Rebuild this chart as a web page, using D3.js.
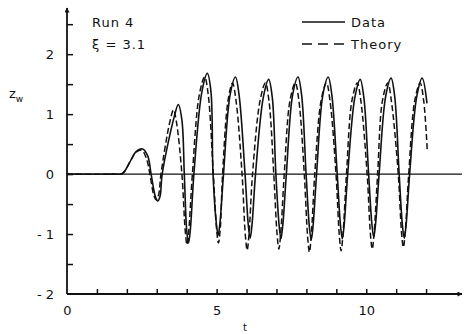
<!DOCTYPE html>
<html>
<head>
<meta charset="utf-8">
<script src="https://cdn.jsdelivr.net/npm/d3@7"></script>
<style>
	body { margin: 0; background: #fff; }
	svg text { font-family: "DejaVu Sans", sans-serif; fill: #111; }
</style>
</head>
<body>
<svg width="466" height="334"></svg>
<script>

const dataT = [0, 1.5, 1.85, 2.1, 2.3, 2.53, 2.7, 2.81, 2.95, 3.03, 3.11, 3.18,
	3.58, 3.72, 3.84, 3.92, 4.0, 4.06, 4.12, 4.24,
	4.51, 4.69, 4.81, 4.88, 4.99, 5.05, 5.11, 5.23,
	5.45, 5.63, 5.75, 5.95, 6.06, 6.12, 6.18, 6.3,
	6.56, 6.74, 6.86, 6.98, 7.09, 7.15, 7.21, 7.33,
	7.54, 7.72, 7.84, 7.99, 8.1, 8.16, 8.22, 8.34,
	8.55, 8.73, 8.85, 9.03, 9.14, 9.2, 9.26, 9.38,
	9.62, 9.8, 9.92, 10.08, 10.19, 10.25, 10.31, 10.43,
	10.65, 10.83, 10.95, 11.1, 11.21, 11.27, 11.33, 11.45,
	11.69, 11.87, 12.03];
const dataZ = [0, 0, 0.01, 0.2, 0.37, 0.42, 0.3, 0, -0.37, -0.45, -0.37, 0,
	0.95, 1.16, 0.9, 0, -0.94, -1.15, -0.94, 0,
	1.38, 1.68, 1.38, 0, -0.82, -1.02, -0.82, 0,
	1.32, 1.62, 1.32, 0, -0.86, -1.07, -0.86, 0,
	1.28, 1.58, 1.28, 0, -0.86, -1.08, -0.86, 0,
	1.32, 1.62, 1.32, 0, -0.88, -1.1, -0.88, 0,
	1.32, 1.62, 1.32, 0, -0.86, -1.08, -0.86, 0,
	1.28, 1.58, 1.28, 0, -0.84, -1.05, -0.84, 0,
	1.3, 1.6, 1.3, 0, -0.86, -1.07, -0.86, 0,
	1.3, 1.6, 1.18];

// theory (dashed line)
const theoryT = [0, 1.5, 1.85, 2.1, 2.3, 2.5, 2.66, 2.77, 2.9, 2.98, 3.06, 3.14,
	3.44, 3.56, 3.66, 3.84, 3.95, 4.01, 4.07, 4.19,
	4.42, 4.6, 4.72, 4.89, 5.0, 5.06, 5.12, 5.2,
	5.38, 5.53, 5.65, 5.85, 5.96, 6.02, 6.08, 6.2,
	6.45, 6.63, 6.75, 6.91, 7.02, 7.08, 7.14, 7.26,
	7.45, 7.63, 7.75, 7.93, 8.04, 8.1, 8.16, 8.28,
	8.49, 8.67, 8.79, 8.99, 9.1, 9.16, 9.22, 9.34,
	9.52, 9.7, 9.82, 10.03, 10.14, 10.2, 10.26, 10.38,
	10.54, 10.72, 10.84, 11.07, 11.18, 11.24, 11.3, 11.42,
	11.62, 11.8, 11.92, 12.04];
const theoryZ = [0, 0, 0.01, 0.2, 0.36, 0.4, 0.25, 0, -0.35, -0.43, -0.35, 0,
	0.88, 1.07, 0.86, 0, -0.94, -1.18, -0.94, 0,
	1.32, 1.62, 1.32, 0, -0.92, -1.15, -0.92, 0,
	1.22, 1.52, 1.22, 0, -1.02, -1.27, -1.02, 0,
	1.22, 1.52, 1.22, 0, -1.0, -1.25, -1.0, 0,
	1.22, 1.52, 1.22, 0, -1.04, -1.3, -1.04, 0,
	1.22, 1.52, 1.22, 0, -1.02, -1.28, -1.02, 0,
	1.22, 1.52, 1.22, 0, -1.0, -1.25, -1.0, 0,
	1.22, 1.52, 1.22, 0, -0.98, -1.22, -0.98, 0,
	1.22, 1.52, 1.22, 0.38];

const xTicks = [1, 2, 3, 4, 5, 6, 7, 8, 9, 10, 11, 12];
const xLabels = [0, 5, 10];
const yTicks = [-1.5, -1, -0.5, 0, 0.5, 1, 1.5, 2, 2.5];
const yLabels = [-2, -1, 0, 1, 2];

const svg = d3.select('svg');

const x = d3.scaleLinear().domain([0, 13.2]).range([67, 462]);
const y = d3.scaleLinear().domain([-2, 2.77]).range([294, 8]);

svg.append('defs').append('marker')
	.attr('id', 'arrow')
	.attr('viewBox', '0 0 10 10')
	.attr('refX', 9).attr('refY', 5)
	.attr('markerWidth', 7).attr('markerHeight', 5)
	.attr('markerUnits', 'userSpaceOnUse')
	.attr('orient', 'auto')
	.append('path')
	.attr('d', 'M0,0 L10,5 L0,10 z')
	.attr('fill', '#111');

// axis lines with arrows
svg.append('line')
	.attr('x1', x(0)).attr('y1', y(-2)).attr('x2', x(13.2)).attr('y2', y(-2))
	.attr('stroke', '#111').attr('stroke-width', 1.8)
	.attr('marker-end', 'url(#arrow)');
svg.append('line')
	.attr('x1', x(0)).attr('y1', y(-2)).attr('x2', x(0)).attr('y2', y(2.77))
	.attr('stroke', '#111').attr('stroke-width', 1.8)
	.attr('marker-end', 'url(#arrow)');

// tick marks pointing inward
const xTickAxis = svg.append('g')
	.attr('transform', 'translate(0,' + y(-2) + ')')
	.call(d3.axisTop(x).tickValues(xTicks).tickSize(5).tickFormat(''));
const yTickAxis = svg.append('g')
	.attr('transform', 'translate(' + x(0) + ',0)')
	.call(d3.axisRight(y).tickValues(yTicks).tickSize(6).tickFormat(''));
[xTickAxis, yTickAxis].forEach(g => {
	g.select('.domain').remove();
	g.selectAll('.tick line').attr('stroke', '#111').attr('stroke-width', 1.5);
});

// labels
const xLab = svg.append('g')
	.attr('transform', 'translate(0,' + y(-2) + ')')
	.call(d3.axisBottom(x).tickValues(xLabels).tickSize(0).tickPadding(12));
const yLab = svg.append('g')
	.attr('transform', 'translate(' + x(0) + ',0)')
	.call(d3.axisLeft(y).tickValues(yLabels).tickSize(0).tickPadding(13)
		.tickFormat(d => d < 0 ? '- ' + Math.abs(d) : d));
[xLab, yLab].forEach(g => {
	g.select('.domain').remove();
	g.selectAll('text')
		.attr('font-family', '"DejaVu Sans", sans-serif')
		.attr('font-size', 13)
		.attr('fill', '#111');
});

// zero line
svg.append('line')
	.attr('x1', x(0)).attr('y1', y(0)).attr('x2', x(13.2)).attr('y2', y(0))
	.attr('stroke', '#111').attr('stroke-width', 1.2);

const line = d3.line()
	.x(d => x(d[0]))
	.y(d => y(d[1]))
	.curve(d3.curveCatmullRom.alpha(0.5));

svg.append('path')
	.datum(theoryT.map((t, i) => [t, theoryZ[i]]))
	.attr('d', line)
	.attr('fill', 'none')
	.attr('stroke', '#111')
	.attr('stroke-width', 1.5)
	.attr('stroke-dasharray', '6,3');

svg.append('path')
	.datum(dataT.map((t, i) => [t, dataZ[i]]))
	.attr('d', line)
	.attr('fill', 'none')
	.attr('stroke', '#111')
	.attr('stroke-width', 1.6);

// axis titles
svg.append('text')
	.attr('x', 245).attr('y', 331)
	.attr('text-anchor', 'middle')
	.attr('font-size', 10)
	.text('t');
const zw = svg.append('text').attr('x', 9).attr('y', 98).attr('font-size', 13);
zw.append('tspan').text('z');
zw.append('tspan').attr('dy', 4).attr('font-size', 9).text('w');

// annotations
svg.append('text')
	.attr('x', 92).attr('y', 27)
	.attr('font-size', 13).attr('letter-spacing', 1)
	.text('Run 4');
svg.append('text')
	.attr('x', 92).attr('y', 49)
	.attr('font-size', 13).attr('letter-spacing', 1)
	.text('ξ = 3.1');

// legend
svg.append('line')
	.attr('x1', 302).attr('y1', 22).attr('x2', 345).attr('y2', 22)
	.attr('stroke', '#111').attr('stroke-width', 1.6);
svg.append('text')
	.attr('x', 351).attr('y', 27)
	.attr('font-size', 13).attr('letter-spacing', 1)
	.text('Data');
svg.append('line')
	.attr('x1', 302).attr('y1', 44).attr('x2', 345).attr('y2', 44)
	.attr('stroke', '#111').attr('stroke-width', 1.6)
	.attr('stroke-dasharray', '10,6');
svg.append('text')
	.attr('x', 351).attr('y', 49)
	.attr('font-size', 13).attr('letter-spacing', 1)
	.text('Theory');

</script>
</body>
</html>
